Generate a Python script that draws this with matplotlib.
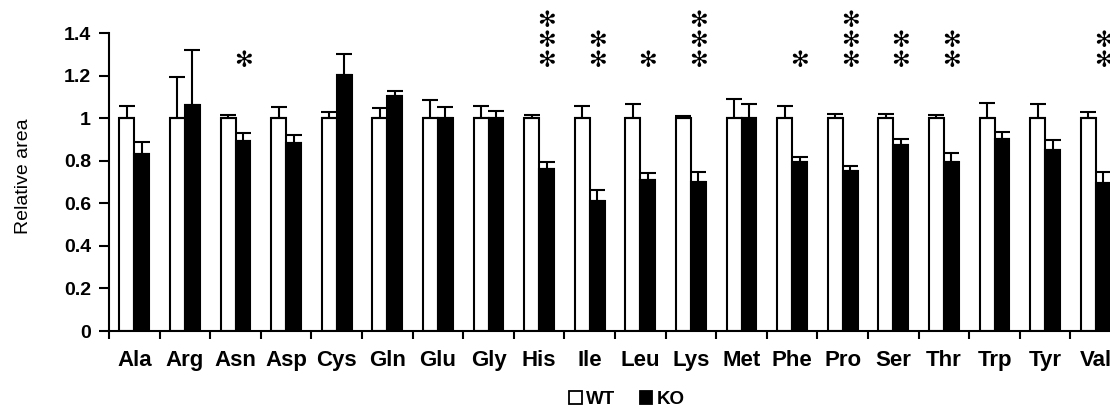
import numpy as np
import matplotlib
matplotlib.use("Agg")
import matplotlib.pyplot as plt
from matplotlib.patches import Patch

plt.rcParams['font.family'] = ['Liberation Sans', 'DejaVu Sans']

# values
amino = ['Ala', 'Arg', 'Asn', 'Asp', 'Cys', 'Gln', 'Glu', 'Gly', 'His', 'Ile',
         'Leu', 'Lys', 'Met', 'Phe', 'Pro', 'Ser', 'Thr', 'Trp', 'Tyr', 'Val']
wt = [1.0, 1.0, 1.0, 1.0, 1.0, 1.0, 1.0, 1.0, 1.0, 1.0,
      1.0, 1.0, 1.0, 1.0, 1.0, 1.0, 1.0, 1.0, 1.0, 1.0]
wt_err = [0.058, 0.195, 0.015, 0.054, 0.027, 0.050, 0.087, 0.055, 0.016, 0.058,
          0.065, 0.011, 0.090, 0.058, 0.021, 0.021, 0.015, 0.069, 0.066, 0.030]
ko = [0.831, 1.061, 0.894, 0.883, 1.201, 1.102, 1.0, 1.0, 0.762, 0.611,
      0.710, 0.701, 1.0, 0.792, 0.753, 0.873, 0.792, 0.902, 0.851, 0.693]
ko_err = [0.059, 0.261, 0.036, 0.040, 0.102, 0.024, 0.052, 0.032, 0.030, 0.051,
          0.033, 0.044, 0.068, 0.025, 0.023, 0.029, 0.042, 0.032, 0.046, 0.052]
stars = [0, 0, 1, 0, 0, 0, 0, 0, 3, 2, 1, 3, 0, 1, 3, 2, 2, 0, 0, 2]
yticks = [0, 0.2, 0.4, 0.6, 0.8, 1.0, 1.2, 1.4]
ytick_labels = ['0', '0.2', '0.4', '0.6', '0.8', '1', '1.2', '1.4']

fig = plt.figure(figsize=(11.1, 4.16), dpi=100)
ax = fig.add_axes([109 / 1110, 85 / 416, 1012 / 1110, 298 / 416])

x = np.arange(len(amino))
w = 0.295
lw = 1.5

ax.bar(x - w / 2, wt, w, color='white', edgecolor='black', linewidth=lw,
       yerr=[np.zeros(len(wt)), wt_err],
       error_kw=dict(ecolor='black', elinewidth=lw, capsize=6, capthick=lw))
ax.bar(x + w / 2, ko, w, color='black', edgecolor='black', linewidth=lw,
       yerr=[np.zeros(len(ko)), ko_err],
       error_kw=dict(ecolor='black', elinewidth=lw, capsize=6, capthick=lw))

# significance asterisks
for i, n in enumerate(stars):
    for k in range(n):
        ax.text(i + 0.15, 1.27 + 0.093 * k, '\u273B', family='DejaVu Sans',
                fontsize=16, fontweight='bold', ha='center', va='center',
                clip_on=False)

ax.set_xlim(-0.5, len(amino) - 0.5)
ax.set_ylim(0, 1.4)
ax.set_yticks(yticks)
ax.set_yticklabels(ytick_labels, fontsize=14, fontweight='bold')
ax.set_xticks(x)
ax.set_xticklabels(amino, fontsize=16, fontweight='bold')
ax.set_xticks(np.arange(len(amino) + 1) - 0.5, minor=True)
ax.tick_params(axis='x', which='major', length=0, pad=14)
ax.tick_params(axis='x', which='minor', length=6, width=lw, direction='out')
ax.tick_params(axis='y', length=7, width=lw, pad=6)

for s in ['top', 'right']:
    ax.spines[s].set_visible(False)
for s in ['left', 'bottom']:
    ax.spines[s].set_linewidth(lw)

fig.text(0.021, 0.577, 'Relative area', rotation=90, ha='center', va='center',
         fontsize=14)

handles = [Patch(facecolor='white', edgecolor='black', linewidth=1.3, label='WT'),
           Patch(facecolor='black', edgecolor='black', linewidth=1.3, label='KO')]
fig.legend(handles=handles, loc='lower center', bbox_to_anchor=(627 / 1110, -0.012),
           ncol=2, frameon=False, prop=dict(size=13.5, weight='bold'),
           handlelength=0.65, handleheight=0.65, handletextpad=0.25,
           columnspacing=1.3, borderpad=0.2)

fig.savefig('out.png', dpi=100)
